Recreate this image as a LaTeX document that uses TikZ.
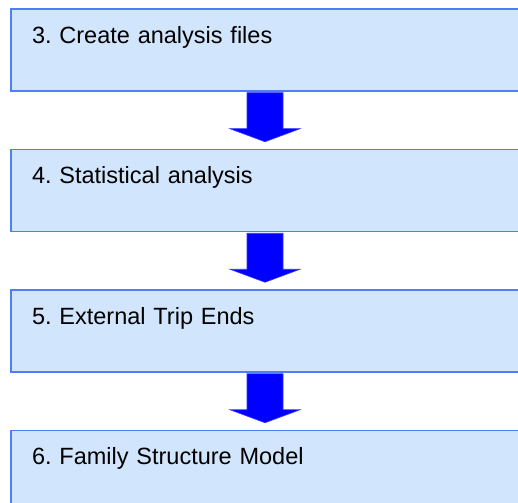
\documentclass[tikz,border=0pt]{standalone}
\usepackage{fontspec}
\setmainfont{Liberation Sans}
\usepackage{tikz}
\usetikzlibrary{positioning}
\frenchspacing
\definecolor{boxfill}{RGB}{209,229,252}
\definecolor{boxline}{RGB}{80,125,250}
\definecolor{arrowblue}{RGB}{0,0,255}
% fat down arrow from one step box to the next
\newcommand{\flowarrow}[2]{%
	\filldraw[flowarr] ([xshift=-18pt,yshift=-1pt]#1.south) -- ([xshift=18pt,yshift=-1pt]#1.south)
	-- ([xshift=18pt,yshift=20pt]#2.north) -- ([xshift=35pt,yshift=20pt]#2.north)
	-- ([yshift=7pt]#2.north) -- ([xshift=-35pt,yshift=20pt]#2.north)
	-- ([xshift=-18pt,yshift=20pt]#2.north) -- cycle;}

\begin{document}
\begin{tikzpicture}[node distance=57pt,
		stepbox/.style={draw=boxline,fill=boxfill,line width=1.5pt,minimum width=508pt,
			minimum height=82pt,text width=466pt,align=left,inner xsep=21pt,inner ysep=18pt,
			text height=16.3pt,text depth=29.7pt,font=\fontsize{23.5}{28}\selectfont},
		flowarr/.style={fill=arrowblue,draw=blue!80!white,line width=0.6pt,line join=miter}]
	\useasboundingbox (0,0) rectangle (518pt,-502pt);
	\node[stepbox] (s3) at (265pt,-50pt) {3. Create analysis files};
	\node[stepbox] (s4) [below=of s3] {4. Statistical analysis};
	\node[stepbox] (s5) [below=of s4] {5. External Trip Ends};
	\node[stepbox] (s6) [below=of s5] {6. Family Structure Model};
	\flowarrow{s3}{s4}
	\flowarrow{s4}{s5}
	\flowarrow{s5}{s6}
\end{tikzpicture}
\end{document}
